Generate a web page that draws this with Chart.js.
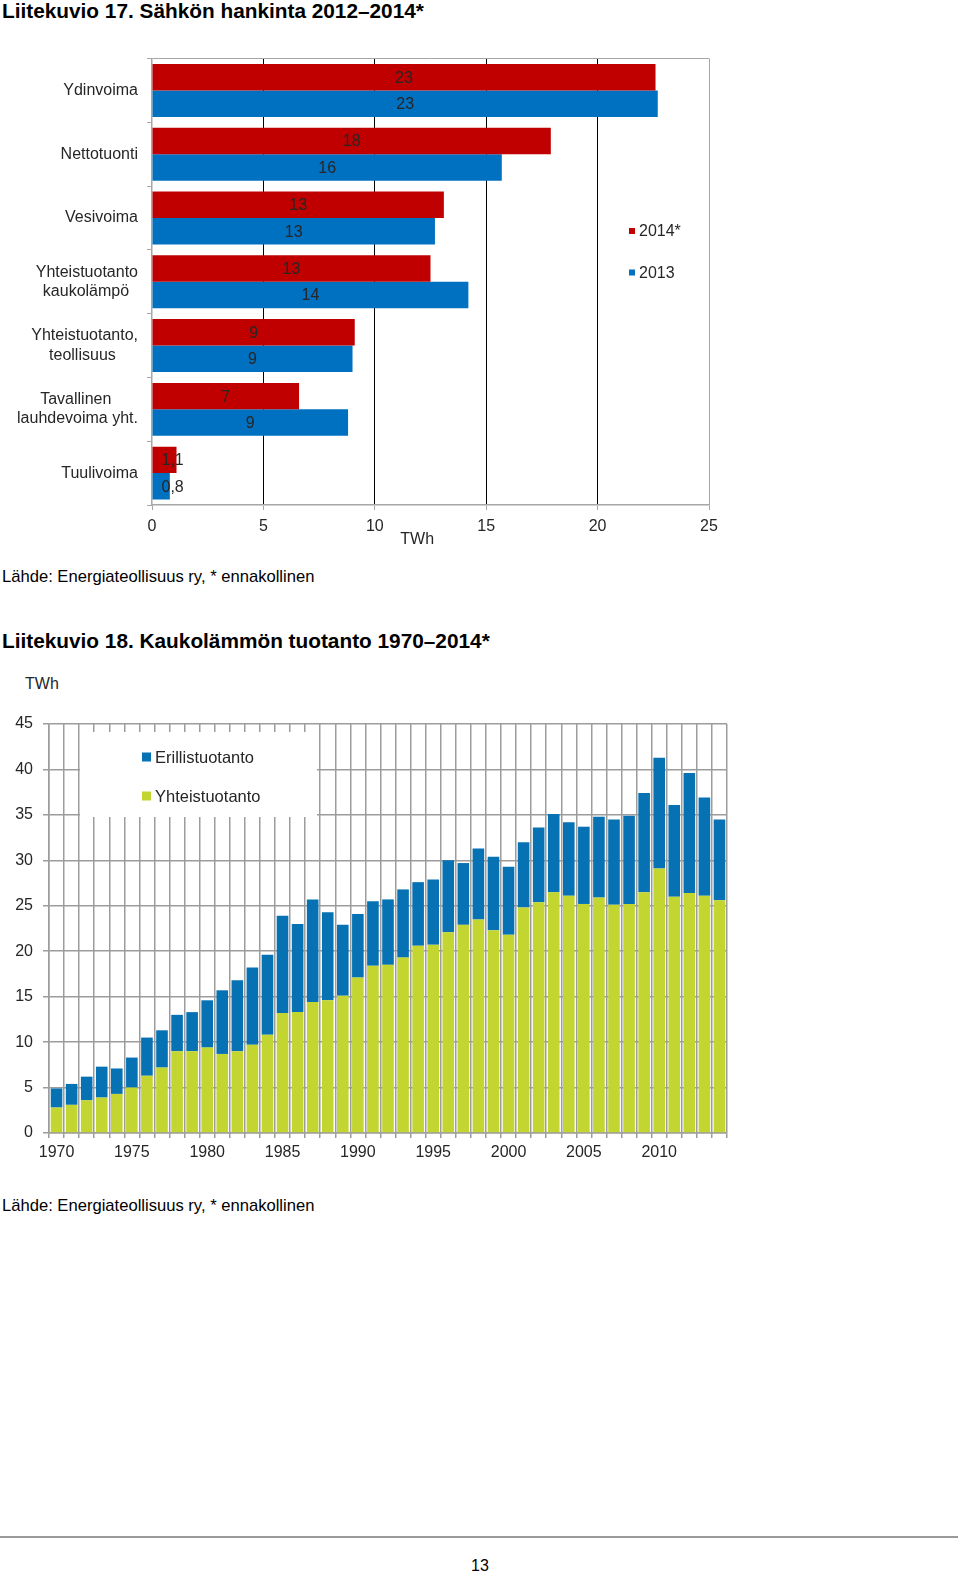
<!DOCTYPE html>
<html lang="fi">
<head>
<meta charset="utf-8">
<title>Liitekuviot 17 ja 18</title>
<script src="https://cdn.jsdelivr.net/npm/chart.js@4.4.1/dist/chart.umd.min.js"></script>
<style>
  html, body { margin: 0; padding: 0; background: #fff; }
  body { position: relative; width: 960px; height: 1572px; overflow: hidden;
         font-family: "Liberation Sans", Arial, sans-serif; color: #000; }
  .otsikko { position: absolute; left: 2px; font-size: 20.8px; line-height: 20px; font-weight: bold; white-space: nowrap; }
  .lahde { position: absolute; left: 2px; font-size: 16.6px; line-height: 16px; white-space: nowrap; }
  .yksikko { position: absolute; left: 25px; top: 676px; font-size: 16px; line-height: 16px; color: #262626; }
  canvas { position: absolute; left: 0; }
  #kuvio17 { top: 40px; }
  #kuvio18 { top: 670px; }
  .viiva { position: absolute; left: 0; top: 1536px; width: 958px; height: 2px; background: #9a9a9a; }
  .sivu { position: absolute; left: 0; width: 960px; top: 1558px; text-align: center; font-size: 16px; line-height: 16px; }
</style>
</head>
<body>

<div class="otsikko" style="top:1px">Liitekuvio 17. Sähkön hankinta 2012–2014*</div>
<canvas id="kuvio17" width="740" height="520"></canvas>
<div class="lahde" style="top:569px">Lähde: Energiateollisuus ry, * ennakollinen</div>

<div class="otsikko" style="top:631px">Liitekuvio 18. Kaukolämmön tuotanto 1970–2014*</div>
<div class="yksikko">TWh</div>
<canvas id="kuvio18" width="760" height="500"></canvas>
<div class="lahde" style="top:1198px">Lähde: Energiateollisuus ry, * ennakollinen</div>

<div class="viiva"></div>
<div class="sivu">13</div>

<script>
// Liitekuvio 17: sähkön hankinta, TWh
const hankintaLuokat = [
	'Ydinvoima',
	'Nettotuonti',
	'Vesivoima',
	['Yhteistuotanto', 'kaukolämpö  '],
	['Yhteistuotanto,', 'teollisuus     '],
	['Tavallinen      ', 'lauhdevoima yht.'],
	'Tuulivoima'
];
const hankinta2014 = [22.6, 17.9, 13.1, 12.5, 9.1, 6.6, 1.1];
const hankinta2013 = [22.7, 15.7, 12.7, 14.2, 9.0, 8.8, 0.8];
const hankintaTicks = [0, 5, 10, 15, 20, 25];

// Liitekuvio 18: kaukolämmön tuotanto, TWh
const vuodet = [
	'1970', '1971', '1972', '1973', '1974', '1975', '1976', '1977', '1978', '1979',
	'1980', '1981', '1982', '1983', '1984', '1985', '1986', '1987', '1988', '1989',
	'1990', '1991', '1992', '1993', '1994', '1995', '1996', '1997', '1998', '1999',
	'2000', '2001', '2002', '2003', '2004', '2005', '2006', '2007', '2008', '2009',
	'2010', '2011', '2012', '2013', '2014'
];
const yhteistuotanto = [
	2.8, 3.1, 3.6, 3.9, 4.3, 5.0, 6.3, 7.2, 9.0, 9.0,
	9.4, 8.7, 9.0, 9.7, 10.8, 13.2, 13.3, 14.4, 14.6, 15.1,
	17.1, 18.4, 18.5, 19.3, 20.6, 20.7, 22.1, 22.9, 23.5, 22.3,
	21.8, 24.8, 25.4, 26.5, 26.1, 25.2, 25.9, 25.1, 25.2, 26.5,
	29.1, 26.0, 26.4, 26.1, 25.6
];
const erillistuotanto = [
	2.1, 2.3, 2.6, 3.4, 2.8, 3.3, 4.2, 4.1, 4.0, 4.3,
	5.2, 7.0, 7.8, 8.5, 8.8, 10.7, 9.7, 11.3, 9.7, 7.8,
	7.0, 7.1, 7.2, 7.5, 7.0, 7.2, 7.9, 6.8, 7.8, 8.1,
	7.5, 7.2, 8.2, 8.6, 8.1, 8.5, 8.9, 9.4, 9.7, 10.9,
	12.2, 10.1, 13.2, 10.8, 8.9
];

const TEKSTI = '#262626';
const HARMAA = '#a6a6a6';

// kapea fontti ylempään kuvioon, jos sellainen löytyy
function fonttiLoytyy(nimi) {
	const c = document.createElement('canvas').getContext('2d');
	c.font = '20px monospace';
	const a = c.measureText('Ydinvoima 2014').width;
	c.font = '20px "' + nimi + '", monospace';
	return c.measureText('Ydinvoima 2014').width !== a;
}
const kapea = fonttiLoytyy('Liberation Sans Narrow');
const kapeaFontti = kapea
	? { family: '"Liberation Sans Narrow", "Arial Narrow", sans-serif', size: 19 }
	: { family: '"Liberation Sans", Arial, sans-serif', size: 16 };

Chart.defaults.font.family = '"Liberation Sans", Arial, sans-serif';
Chart.defaults.color = TEKSTI;

// selite piirretään itse kuvion sisään
const omaSelite = {
	id: 'omaSelite',
	beforeDatasetsDraw(chart, args, opts) {
		if (!opts.tausta) return;
		const t = opts.tausta;
		chart.ctx.save();
		chart.ctx.fillStyle = '#fff';
		chart.ctx.fillRect(t.x, t.y, t.w, t.h);
		chart.ctx.restore();
	},
	afterDraw(chart, args, opts) {
		const ctx = chart.ctx;
		let sarjat = chart.data.datasets.slice();
		if (opts.kaanna) sarjat.reverse();
		ctx.save();
		ctx.font = opts.koko + 'px ' + opts.perhe;
		ctx.textBaseline = 'middle';
		sarjat.forEach((ds, i) => {
			const y = opts.y + i * opts.vali;
			ctx.fillStyle = ds.backgroundColor;
			ctx.fillRect(opts.x, y - opts.laatikko / 2, opts.laatikko, opts.laatikko);
			ctx.fillStyle = TEKSTI;
			ctx.fillText(ds.label, opts.x + opts.laatikko + opts.rako, y + 1);
		});
		ctx.restore();
	}
};

// arvot palkkien keskelle
const palkkiArvot = {
	id: 'palkkiArvot',
	afterDatasetsDraw(chart) {
		const ctx = chart.ctx;
		ctx.save();
		ctx.font = (kapea ? 18.5 : 16) + 'px ' + kapeaFontti.family;
		ctx.fillStyle = TEKSTI;
		ctx.textAlign = 'center';
		ctx.textBaseline = 'middle';
		chart.data.datasets.forEach((ds, i) => {
			chart.getDatasetMeta(i).data.forEach((bar, j) => {
				const v = ds.data[j];
				const txt = v < 2 ? v.toFixed(1).replace('.', ',') : String(Math.round(v));
				const w = ctx.measureText(txt).width;
				const x = Math.max((bar.x + bar.base) / 2, bar.base + w / 2 + 9);
				ctx.fillText(txt, x, bar.y + 1);
			});
		});
		ctx.restore();
	}
};

new Chart(document.getElementById('kuvio17'), {
	type: 'bar',
	data: {
		labels: hankintaLuokat,
		datasets: [
			{ label: '2014*', data: hankinta2014, backgroundColor: '#c00000' },
			{ label: '2013', data: hankinta2013, backgroundColor: '#0070c0' }
		]
	},
	options: {
		indexAxis: 'y',
		responsive: false,
		animation: false,
		layout: { padding: { top: 17, right: 31, left: 0, bottom: 0 } },
		datasets: { bar: { categoryPercentage: 0.83, barPercentage: 1 } },
		scales: {
			x: {
				min: 0,
				max: 25,
				afterBuildTicks: s => { s.ticks = hankintaTicks.map(v => ({ value: v })); },
				ticks: { padding: 7, color: TEKSTI, font: kapeaFontti },
				grid: {
					color: c => !c.tick || c.tick.value === 0 ? 'rgba(0,0,0,0)' : (c.tick.value === 25 ? HARMAA : '#000'),
					lineWidth: 1,
					tickLength: 5,
					tickColor: HARMAA
				},
				border: { color: HARMAA, width: 1.5 },
				title: { display: true, text: 'TWh      ', color: TEKSTI, font: kapeaFontti, padding: { top: 0, bottom: 11 } },
				afterFit: s => { s.height = 55; }
			},
			y: {
				ticks: { padding: 9, color: TEKSTI, font: kapeaFontti },
				grid: {
					offset: true,
					color: c => c.index === 0 ? HARMAA : 'rgba(0,0,0,0)',
					tickLength: 5,
					tickColor: HARMAA
				},
				border: { color: HARMAA, width: 1.5 },
				afterFit: s => { s.width = 152; }
			}
		},
		plugins: {
			legend: { display: false },
			tooltip: { enabled: false },
			omaSelite: { x: 629, y: 191, vali: 41.5, laatikko: 6, rako: 4, koko: kapeaFontti.size, perhe: kapeaFontti.family }
		}
	},
	plugins: [palkkiArvot, omaSelite]
});

new Chart(document.getElementById('kuvio18'), {
	type: 'bar',
	data: {
		labels: vuodet,
		datasets: [
			{ label: 'Yhteistuotanto', data: yhteistuotanto, backgroundColor: '#c2d530' },
			{ label: 'Erillistuotanto', data: erillistuotanto, backgroundColor: '#0672b4' }
		]
	},
	options: {
		responsive: false,
		animation: false,
		layout: { padding: { top: 54, right: 33, left: 0, bottom: 0 } },
		datasets: { bar: { categoryPercentage: 1, barPercentage: 0.77 } },
		scales: {
			x: {
				stacked: true,
				ticks: {
					autoSkip: false,
					maxRotation: 0,
					padding: 5,
					color: TEKSTI,
					font: { size: 16 },
					callback: function(val, i) { return i % 5 === 0 ? this.getLabelForValue(val) : ''; }
				},
				grid: { offset: true, color: '#9c9c9c', lineWidth: 1.5, tickLength: 5, tickColor: '#9c9c9c' },
				border: { color: '#9c9c9c', width: 1.5 },
				afterFit: s => { s.height = 37; }
			},
			y: {
				stacked: true,
				min: 0,
				max: 45,
				ticks: { stepSize: 5, padding: 10, color: TEKSTI, font: { size: 16 } },
				grid: { color: '#9c9c9c', lineWidth: 1.5, tickLength: 6, tickColor: '#9c9c9c' },
				border: { color: '#9c9c9c', width: 1.5 },
				afterFit: s => { s.width = 49; }
			}
		},
		plugins: {
			legend: { display: false },
			tooltip: { enabled: false },
			omaSelite: {
				tausta: { x: 80, y: 62, w: 237, h: 85 },
				kaanna: true,
				x: 142, y: 87, vali: 39, laatikko: 9, rako: 4,
				koko: 16.5, perhe: '"Liberation Sans", Arial, sans-serif'
			}
		}
	},
	plugins: [omaSelite]
});
</script>
</body>
</html>
